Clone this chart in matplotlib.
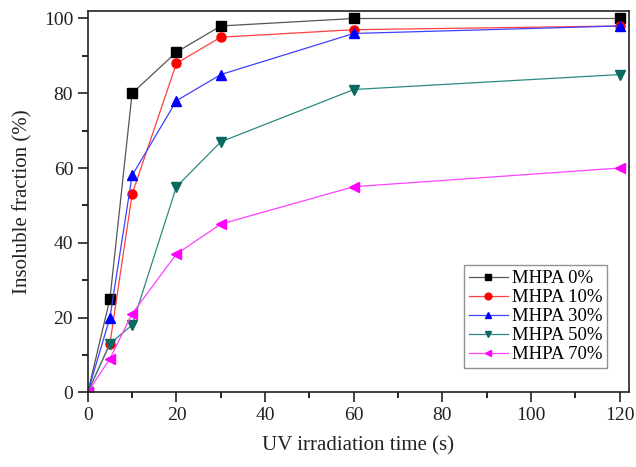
import matplotlib
matplotlib.use("Agg")
import matplotlib.pyplot as plt
from matplotlib.ticker import MultipleLocator

plt.rcParams['font.family'] = ['Liberation Serif', 'DejaVu Serif']

time_s = [0, 5, 10, 20, 30, 60, 120]
mhpa_0 = [0, 25, 80, 91, 98, 100, 100]
mhpa_10 = [0, 13, 53, 88, 95, 97, 98]
mhpa_30 = [0, 20, 58, 78, 85, 96, 98]
mhpa_50 = [0, 13, 18, 55, 67, 81, 85]
mhpa_70 = [0, 9, 21, 37, 45, 55, 60]
labels = ["MHPA 0%", "MHPA 10%", "MHPA 30%", "MHPA 50%", "MHPA 70%"]

series = [mhpa_0, mhpa_10, mhpa_30, mhpa_50, mhpa_70]
line_colors = ["#555555", "#ff4040", "#4040ff", "#2a8a80", "#ff40ff"]
marker_colors = ["#000000", "#ff0000", "#0000ff", "#0a6a60", "#ff00ff"]
markers = ["s", "o", "^", "v", "<"]

fig = plt.figure(figsize=(6.36, 4.67), dpi=100)
ax = fig.add_axes([0.138, 0.16, 0.8505, 0.8164])

for vals, lc, mc, mk, lab in zip(series, line_colors, marker_colors, markers, labels):
    ax.plot(time_s, vals, color=lc, lw=0.9, marker=mk, markersize=6.5,
            markerfacecolor=mc, markeredgecolor=mc, label=lab)

ax.set_xlim(0, 122)
ax.set_ylim(0, 102)
ax.xaxis.set_major_locator(MultipleLocator(20))
ax.xaxis.set_minor_locator(MultipleLocator(10))
ax.yaxis.set_major_locator(MultipleLocator(20))
ax.yaxis.set_minor_locator(MultipleLocator(10))
ax.tick_params(which='major', direction='out', length=7, width=1.2, labelsize=14, colors='#222222')
ax.tick_params(which='minor', direction='out', length=4, width=1.2)
ax.tick_params(top=False, right=False)
for sp in ax.spines.values():
    sp.set_linewidth(1.2)
    sp.set_color('#222222')

ax.set_xlabel("UV irradiation time (s)", fontsize=15, labelpad=9, color='#222222')
ax.set_ylabel("Insoluble fraction (%)", fontsize=15, labelpad=8, color='#222222')

leg = ax.legend(loc='lower right', bbox_to_anchor=(0.960, 0.064), fontsize=13.5,
                frameon=True, fancybox=False, handlelength=2.1, handletextpad=0.2,
                labelspacing=0.1, borderpad=0.25, borderaxespad=0.0, markerscale=0.75)
leg.get_frame().set_edgecolor('#777777')
leg.get_frame().set_linewidth(1.0)

fig.savefig("out.png", dpi=100)
